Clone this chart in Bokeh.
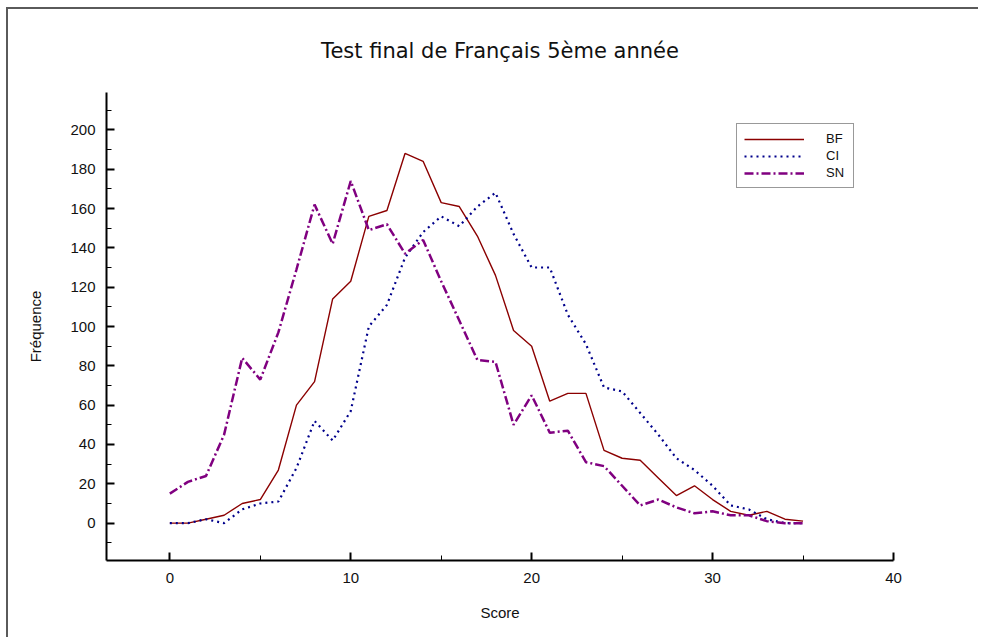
from bokeh.plotting import figure
from bokeh.models import FixedTicker, Range1d, Legend, LegendItem, Title
from bokeh.embed import file_html
from bokeh.resources import INLINE

# ---- data ----
scores = list(range(0, 36))
bf = [0, 0, 2, 4, 10, 12, 27, 60, 72, 114, 123, 156, 159, 188, 184, 163, 161, 146,
      126, 98, 90, 62, 66, 66, 37, 33, 32, 23, 14, 19, 12, 6, 4, 6, 2, 1]
ci = [0, 0, 2, 0, 7, 10, 11, 28, 52, 42, 57, 100, 111, 135, 148, 156, 151, 161,
      168, 147, 130, 130, 106, 91, 69, 67, 56, 45, 33, 27, 19, 9, 7, 2, 0, 0]
sn = [15, 21, 24, 45, 84, 73, 97, 129, 162, 142, 174, 149, 152, 137, 144, 123, 103, 83,
      82, 50, 65, 46, 47, 31, 29, 19, 9, 12, 8, 5, 6, 4, 4, 1, 0, 0]
series_names = ["BF", "CI", "SN"]
x_major = [0, 10, 20, 30, 40]
x_minor = [5, 15, 25, 35]
y_major = list(range(0, 201, 20))
y_minor = list(range(-10, 211, 20))

title_text = "Test final de Français 5ème année"
x_title = "Score"
y_title = "Fréquence"

FONT = "Liberation Sans"

p = figure(width=972, height=630, output_backend="svg", toolbar_location=None,
           x_range=Range1d(-3.5, 40), y_range=Range1d(-19, 219),
           min_border_left=98, min_border_right=87, min_border_top=83, min_border_bottom=79)
p.styles = {"border-left": "2px solid #5a5a5a", "border-top": "2px solid #5a5a5a",
            "margin-left": "6px", "margin-top": "7px"}

t = Title(text=title_text, align="center", text_font="DejaVu Sans", text_font_size="21px",
          text_font_style="normal", text_color="#111111", standoff=56,
          vertical_align="top")
p.add_layout(t, "above")

p.outline_line_color = None
p.xgrid.grid_line_color = None
p.ygrid.grid_line_color = None
p.background_fill_color = "white"
p.border_fill_color = "white"

for ax in (p.xaxis[0], p.yaxis[0]):
    ax.axis_line_width = 2
    ax.axis_line_color = "black"
    ax.major_tick_line_color = "black"
    ax.minor_tick_line_color = "black"
    ax.major_tick_line_width = 2
    ax.minor_tick_line_width = 1
    ax.major_tick_in = 8
    ax.major_tick_out = 0
    ax.minor_tick_in = 5
    ax.minor_tick_out = 0
    ax.major_label_text_font = FONT
    ax.major_label_text_font_size = "15px"
    ax.major_label_text_color = "#111111"
    ax.axis_label_text_font = FONT
    ax.axis_label_text_font_size = "15px"
    ax.axis_label_text_font_style = "normal"
    ax.axis_label_text_color = "#111111"

p.xaxis[0].ticker = FixedTicker(ticks=x_major, minor_ticks=x_minor)
p.yaxis[0].ticker = FixedTicker(ticks=y_major, minor_ticks=y_minor)
p.xaxis[0].axis_label = x_title
p.yaxis[0].axis_label = y_title
p.xaxis[0].major_label_standoff = 12
p.yaxis[0].major_label_standoff = 11
p.xaxis[0].axis_label_standoff = 18
p.yaxis[0].axis_label_standoff = 23

r_bf = p.line(scores, bf, line_color="#8b0000", line_width=1.4)
r_ci = p.line(scores, ci, line_color="#00008b", line_width=2.2, line_dash="2 4")
r_sn = p.line(scores, sn, line_color="#800080", line_width=2.5, line_dash="9 3 2 3")

legend = Legend(items=[LegendItem(label=series_names[0], renderers=[r_bf]),
                       LegendItem(label=series_names[1], renderers=[r_ci]),
                       LegendItem(label=series_names[2], renderers=[r_sn])],
                location=(630, 372), orientation="vertical",
                glyph_width=60, glyph_height=14, label_height=14, label_standoff=22,
                spacing=2, padding=7, margin=0,
                label_text_font=FONT, label_text_font_size="13px", label_text_color="#111111",
                border_line_color="#333333", border_line_width=1.5,
                background_fill_color="white", background_fill_alpha=1)
p.add_layout(legend, "center")

open("out.html", "w").write(file_html(p, INLINE))
